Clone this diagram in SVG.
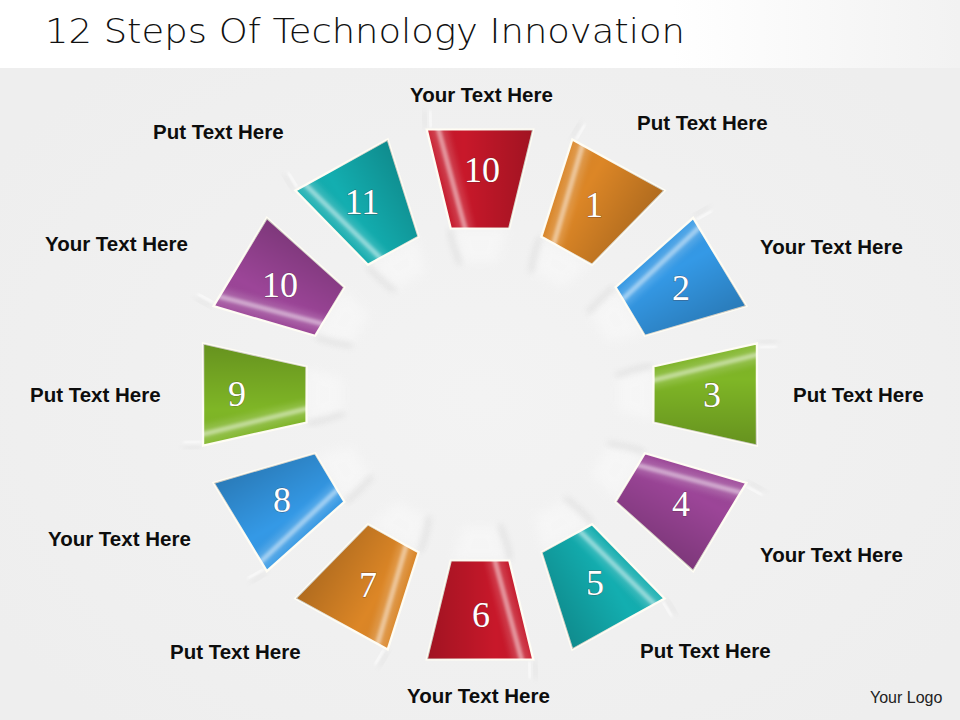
<svg xmlns="http://www.w3.org/2000/svg" width="960" height="720" viewBox="0 0 960 720">
<style>
.lbl{font-family:"Liberation Sans",Arial,sans-serif;font-weight:bold;font-size:20.5px;fill:#0d0d0d}
.num{font-family:"Liberation Serif","Times New Roman",serif;font-size:36px;fill:#ffffff;stroke:#4a2a2a;stroke-opacity:.5;stroke-width:.9;paint-order:stroke;text-anchor:middle}
.tab{stroke:#fffdf4;stroke-width:2.2;stroke-linejoin:miter}
.title{font-family:"DejaVu Sans","Liberation Sans",sans-serif;font-weight:200;font-size:34px;fill:#111}
.logo{font-family:"Liberation Sans",Arial,sans-serif;font-size:16px;fill:#222}
</style>
<defs>
<linearGradient id="band" x1="0" y1="0" x2="1" y2="0">
<stop offset="0" stop-color="#ffffff"/><stop offset="0.7" stop-color="#ffffff"/><stop offset="1" stop-color="#f2f2f2"/>
</linearGradient>
<radialGradient id="bgGlow" cx="0.5" cy="0.55" r="0.6">
<stop offset="0" stop-color="#f3f3f3"/><stop offset="1" stop-color="#eeeeee"/>
</radialGradient>
<linearGradient id="dk" x1="0" y1="0" x2="1" y2="0">
<stop offset="0" stop-color="#ffffff" stop-opacity=".06"/>
<stop offset="0.35" stop-color="#000000" stop-opacity="0"/>
<stop offset="1" stop-color="#000000" stop-opacity=".2"/>
</linearGradient>
<filter id="b1" x="-50%" y="-50%" width="200%" height="200%"><feGaussianBlur stdDeviation="1.5"/></filter>
<filter id="b3" x="-50%" y="-50%" width="200%" height="200%"><feGaussianBlur stdDeviation="3"/></filter>
<filter id="b5" x="-50%" y="-50%" width="200%" height="200%"><feGaussianBlur stdDeviation="5"/></filter>
<polygon id="trap" points="-51,-265 51,-265 28,-166 -28,-166"/>
<clipPath id="trapClip"><polygon points="-51,-265 51,-265 28,-166 -28,-166"/></clipPath>
<g id="fold">
<polygon points="-26,-166 26,-166 16,-132 -16,-132" fill="#ffffff" opacity=".35" filter="url(#b5)"/>
<path d="M-29,-165 Q-26,-148 -19,-130" fill="none" stroke="#9a9a9a" stroke-width="2.5" opacity=".35" filter="url(#b3)"/>
<path d="M-52,-266 L-54,-284" fill="none" stroke="#9a9a9a" stroke-width="2" opacity=".25" filter="url(#b3)"/>
<path d="M-47,-267 L-48,-284" fill="none" stroke="#ffffff" stroke-width="3" opacity=".7" filter="url(#b1)"/>
</g>
<g id="shade" clip-path="url(#trapClip)">
<polygon points="-51,-265 51,-265 28,-166 -28,-166" fill="url(#dk)"/>
<polygon points="-48,-268 -32,-268 -6,-163 -22,-163" fill="#ffffff" opacity=".16" filter="url(#b3)"/>
<polygon points="-43,-268 -38,-268 -11,-163 -16,-163" fill="#ffffff" opacity=".45" filter="url(#b1)"/>
</g>
</defs>

<rect x="0" y="0" width="960" height="720" fill="url(#bgGlow)"/>
<rect x="0" y="0" width="960" height="68" fill="url(#band)"/>
<text class="title" x="45" y="43" textLength="640" lengthAdjust="spacingAndGlyphs">12 Steps Of Technology Innovation</text>

<g id="connectors"></g>

<g id="step-10-top">
<g transform="translate(480 394.5) scale(1.045 1) rotate(0)"><use href="#fold"/><use href="#trap" class="tab" fill="#c8182a"/><use href="#shade"/></g>
<text class="num" x="482" y="182">10</text>
<text class="lbl" x="410" y="102">Your Text Here</text>
</g>
<g id="step-1">
<g transform="translate(480 394.5) scale(1.045 1) rotate(30)"><use href="#fold"/><use href="#trap" class="tab" fill="#dc8626"/><use href="#shade"/></g>
<text class="num" x="594" y="217">1</text>
<text class="lbl" x="637" y="130">Put Text Here</text>
</g>
<g id="step-2">
<g transform="translate(480 394.5) scale(1.045 1) rotate(60)"><use href="#fold"/><use href="#trap" class="tab" fill="#3499e6"/><use href="#shade"/></g>
<text class="num" x="681" y="300">2</text>
<text class="lbl" x="760" y="254">Your Text Here</text>
</g>
<g id="step-3">
<g transform="translate(480 394.5) scale(1.045 1) rotate(90)"><use href="#fold"/><use href="#trap" class="tab" fill="#7fb626"/><use href="#shade"/></g>
<text class="num" x="712" y="407">3</text>
<text class="lbl" x="793" y="402">Put Text Here</text>
</g>
<g id="step-4">
<g transform="translate(480 394.5) scale(1.045 1) rotate(120)"><use href="#fold"/><use href="#trap" class="tab" fill="#9c4598"/><use href="#shade"/></g>
<text class="num" x="681" y="516">4</text>
<text class="lbl" x="760" y="562">Your Text Here</text>
</g>
<g id="step-5">
<g transform="translate(480 394.5) scale(1.045 1) rotate(150)"><use href="#fold"/><use href="#trap" class="tab" fill="#13aeb0"/><use href="#shade"/></g>
<text class="num" x="595" y="595">5</text>
<text class="lbl" x="640" y="658">Put Text Here</text>
</g>
<g id="step-6">
<g transform="translate(480 394.5) scale(1.045 1) rotate(180)"><use href="#fold"/><use href="#trap" class="tab" fill="#c8182a"/><use href="#shade"/></g>
<text class="num" x="481" y="627">6</text>
<text class="lbl" x="407" y="703">Your Text Here</text>
</g>
<g id="step-7">
<g transform="translate(480 394.5) scale(1.045 1) rotate(210)"><use href="#fold"/><use href="#trap" class="tab" fill="#dc8626"/><use href="#shade"/></g>
<text class="num" x="368" y="597">7</text>
<text class="lbl" x="170" y="659">Put Text Here</text>
</g>
<g id="step-8">
<g transform="translate(480 394.5) scale(1.045 1) rotate(240)"><use href="#fold"/><use href="#trap" class="tab" fill="#3499e6"/><use href="#shade"/></g>
<text class="num" x="282" y="512">8</text>
<text class="lbl" x="48" y="546">Your Text Here</text>
</g>
<g id="step-9">
<g transform="translate(480 394.5) scale(1.045 1) rotate(270)"><use href="#fold"/><use href="#trap" class="tab" fill="#7fb626"/><use href="#shade"/></g>
<text class="num" x="237" y="406">9</text>
<text class="lbl" x="30" y="402">Put Text Here</text>
</g>
<g id="step-10-left">
<g transform="translate(480 394.5) scale(1.045 1) rotate(300)"><use href="#fold"/><use href="#trap" class="tab" fill="#9c4598"/><use href="#shade"/></g>
<text class="num" x="280" y="297">10</text>
<text class="lbl" x="45" y="251">Your Text Here</text>
</g>
<g id="step-11">
<g transform="translate(480 394.5) scale(1.045 1) rotate(330)"><use href="#fold"/><use href="#trap" class="tab" fill="#13aeb0"/><use href="#shade"/></g>
<text class="num" x="362" y="214">11</text>
<text class="lbl" x="153" y="139">Put Text Here</text>
</g>

<text class="logo" x="870" y="703">Your Logo</text>
</svg>
